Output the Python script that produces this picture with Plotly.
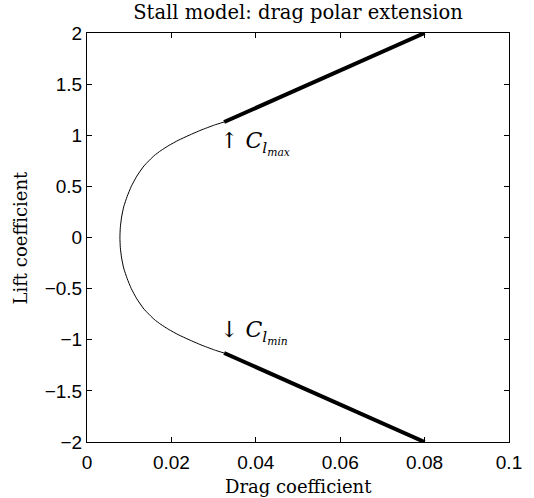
import plotly.graph_objects as go

# Drag polar (thin curve)
polar_cl = [-1.13, -1.10, -1.05, -1.00, -0.95, -0.90, -0.85, -0.80, -0.70, -0.60, -0.50, -0.40,
            -0.30, -0.20, -0.10, 0.00, 0.10, 0.20, 0.30, 0.40, 0.50, 0.60, 0.70, 0.80, 0.85,
            0.90, 0.95, 1.00, 1.05, 1.10, 1.13]
polar_cd = [0.0325, 0.0302, 0.0270, 0.0242, 0.0216, 0.0194, 0.0175, 0.0159, 0.0135, 0.0118,
            0.0105, 0.0095, 0.0087, 0.0082, 0.0079, 0.0078, 0.0079, 0.0082, 0.0087, 0.0095,
            0.0105, 0.0118, 0.0135, 0.0159, 0.0175, 0.0194, 0.0216, 0.0242, 0.0270, 0.0302,
            0.0325]

# Stall extensions (thick lines)
upper_cd = [0.0325, 0.08]
upper_cl = [1.13, 2.0]
lower_cd = [0.0325, 0.08]
lower_cl = [-1.13, -2.0]

x_ticks = [0, 0.02, 0.04, 0.06, 0.08, 0.1]
x_labels = ["0", "0.02", "0.04", "0.06", "0.08", "0.1"]
y_ticks = [-2, -1.5, -1, -0.5, 0, 0.5, 1, 1.5, 2]
y_labels = ["\u22122", "\u22121.5", "\u22121", "\u22120.5", "0", "0.5", "1", "1.5", "2"]

title_text = "Stall model: drag polar extension"
x_title = "Drag coefficient"
y_title = "Lift coefficient"

serif = "DejaVu Serif"
sans = "Liberation Sans"

fig = go.Figure()
fig.add_trace(go.Scatter(x=polar_cd, y=polar_cl, mode="lines",
                         line=dict(color="black", width=1, shape="spline", smoothing=0.5),
                         showlegend=False))
fig.add_trace(go.Scatter(x=upper_cd, y=upper_cl, mode="lines",
                         line=dict(color="black", width=4), showlegend=False))
fig.add_trace(go.Scatter(x=lower_cd, y=lower_cl, mode="lines",
                         line=dict(color="black", width=4), showlegend=False))

fig.add_annotation(x=0.031, y=0.92, xref="x", yref="y", xanchor="left", yanchor="middle",
                   text="↑ <i>C</i><sub><i>l<sub>max</sub></i></sub>", showarrow=False,
                   font=dict(family=serif, size=22, color="black"))
fig.add_annotation(x=0.031, y=-0.93, xref="x", yref="y", xanchor="left", yanchor="middle",
                   text="↓ <i>C</i><sub><i>l<sub>min</sub></i></sub>", showarrow=False,
                   font=dict(family=serif, size=22, color="black"))

# axis titles
fig.add_annotation(x=0.5, y=0, xref="paper", yref="paper", xanchor="center", yanchor="middle",
                   yshift=-44, text=x_title, showarrow=False,
                   font=dict(family=serif, size=18, color="black"))
fig.add_annotation(x=0, y=0.5, xref="paper", yref="paper", xanchor="center", yanchor="middle",
                   xshift=-67, textangle=-90, text=y_title, showarrow=False,
                   font=dict(family=serif, size=18, color="black"))

fig.update_layout(
    width=534, height=498,
    margin=dict(l=87, r=18, t=33, b=56),
    paper_bgcolor="white", plot_bgcolor="white",
    title=dict(text=title_text, xref="paper", x=0.5,
               xanchor="center", yref="container", y=1 - 12 / 498, yanchor="middle",
               font=dict(family=serif, size=19.5, color="black")),
    xaxis=dict(range=[0, 0.1], tickvals=x_ticks, ticktext=x_labels,
               ticks="inside", ticklen=5, tickcolor="black", showline=True, linecolor="black",
               linewidth=1, mirror="ticks", showgrid=False, zeroline=False,
               ticklabelstandoff=3,
               tickfont=dict(family=sans, size=19, color="black")),
    yaxis=dict(range=[-2, 2], tickvals=y_ticks, ticktext=y_labels,
               ticks="inside", ticklen=5, tickcolor="black", showline=True, linecolor="black",
               linewidth=1, mirror="ticks", showgrid=False, zeroline=False,
               tickfont=dict(family=sans, size=19, color="black")),
)

# remove the browser's default 8px body margin so the figure sits at the page origin
fig.write_html("out.html", config={"displayModeBar": False},
               post_script="document.body.style.margin='0px';")
